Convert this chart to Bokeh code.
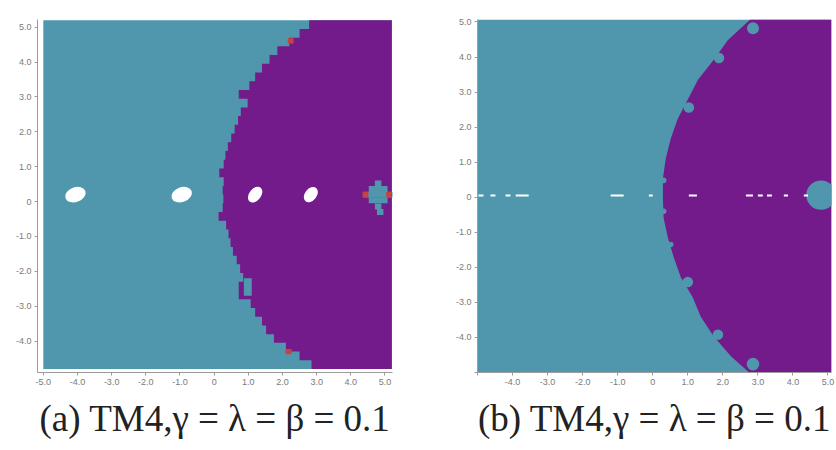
import numpy as np
from bokeh.plotting import figure
from bokeh.layouts import row
from bokeh.models import FixedTicker, Title, Range1d
from bokeh.embed import file_html
from bokeh.resources import INLINE

TEAL = "#5097AD"
PURPLE = "#741B8C"
RED = "#C4433D"
WHITE = "#FFFFFF"
AXIS_GREY = "#9c9c9c"
LABEL_GREY = "#7a7a7a"

# ---------------- panel (a): basins on a coarse grid ----------------
A_X0, A_X1 = -5.0, 5.2          # extent of the computed grid
A_Y0, A_Y1 = -4.8, 5.2
A_ROW_H = 0.25

# one grid row per entry, top to bottom: left edge of the purple basin
a_row_y = [5.075, 4.825, 4.575, 4.325, 4.075, 3.825, 3.575, 3.325, 3.075, 2.825,
           2.575, 2.325, 2.075, 1.825, 1.575, 1.325, 1.075, 0.825, 0.575, 0.325,
           0.075, -0.175, -0.425, -0.675, -0.925, -1.175, -1.425, -1.675, -1.925, -2.175,
           -2.425, -2.675, -2.925, -3.175, -3.425, -3.675, -3.925, -4.175, -4.425, -4.675]
a_edge_x = [2.78, 2.5, 2.2, 1.85, 1.62, 1.4, 1.2, 1.03, 0.72, 0.98,
            0.78, 0.7, 0.6, 0.5, 0.4, 0.33, 0.28, 0.15, 0.28, 0.25,
            0.27, 0.25, 0.13, 0.35, 0.42, 0.48, 0.55, 0.66, 0.76, 0.85,
            0.72, 0.72, 1.07, 1.2, 1.4, 1.52, 1.75, 2.1, 2.5, 2.85]

# teal pocket inside the purple basin
a_isle_left, a_isle_right = [0.87], [1.1]
a_isle_bottom, a_isle_top = [-2.7], [-2.2]

# teal star near the right edge (grid cells)
a_star_x = [4.8, 4.62, 4.8, 4.98, 4.45, 4.62, 4.8, 4.98, 5.16, 4.62, 4.8, 4.98, 4.8, 4.86]
a_star_y = [0.52, 0.36, 0.36, 0.36, 0.2, 0.2, 0.2, 0.2, 0.2, 0.04, 0.04, 0.04, -0.14, -0.3]

# red (third root) cells
a_red_x = [2.24, 2.18, 4.43, 5.12]
a_red_y = [4.61, -4.3, 0.2, 0.2]

# non-convergent blobs on the real axis
a_hole_x = [-4.06, -0.95, 1.2, 2.83]
a_hole_y = [0.2, 0.2, 0.2, 0.2]
a_hole_w = [0.62, 0.62, 0.52, 0.5]
a_hole_h = [0.42, 0.42, 0.34, 0.34]
a_hole_angle = [0.35, 0.35, 0.9, 0.9]

a_ticks = [-5, -4, -3, -2, -1, 0, 1, 2, 3, 4, 5]
a_tick_labels = ["-5.0", "-4.0", "-3.0", "-2.0", "-1.0", "0", "1.0", "2.0", "3.0", "4.0", "5.0"]

# ---------------- panel (b): basins on a fine grid ----------------
B_X0, B_X1 = -5.0, 5.1
B_Y0, B_Y1 = -5.0, 5.07

b_edge_y = [5.07, 4.48, 3.92, 3.35, 2.79, 2.23, 1.66, 1.1, 0.54, -0.03,
            -0.59, -1.15, -1.72, -2.28, -2.85, -3.41, -3.97, -4.54, -5.0]
b_edge_x = [2.78, 2.14, 1.74, 1.29, 1.0, 0.71, 0.51, 0.37, 0.29, 0.29,
            0.31, 0.43, 0.6, 0.8, 1.14, 1.37, 1.74, 2.23, 2.75]

# teal bulbs along the basin boundary
b_bulb_x = [2.86, 1.89, 1.03, 0.31, 0.31, 0.51, 1.0, 1.86, 2.86, 4.8]
b_bulb_y = [4.82, 3.97, 2.56, 0.48, -0.4, -1.35, -2.42, -3.92, -4.76, 0.06]
b_bulb_r = [0.17, 0.15, 0.15, 0.08, 0.08, 0.08, 0.15, 0.15, 0.18, 0.42]

# non-convergent dashes on the real axis
b_dash_x0 = [-4.97, -4.63, -4.2, -3.91, -1.2, -0.11, 1.03, 2.66, 3.0, 3.26, 3.74, 4.31]
b_dash_x1 = [-4.83, -4.49, -4.06, -3.54, -0.83, 0.0, 1.26, 2.86, 3.14, 3.4, 3.86, 4.43]
b_dash_y = 0.05

b_ticks = [-5, -4, -3, -2, -1, 0, 1, 2, 3, 4, 5]
b_tick_labels = ["", "-4.0", "-3.0", "-2.0", "-1.0", "0", "1.0", "2.0", "3.0", "4.0", "5.0"]
b_ytick_labels = ["", "-4.0", "-3.0", "-2.0", "-1.0", "0", "1.0", "2.0", "3.0", "4.0", "5.0"]

captions = ["(a) TM4,γ = λ = β = 0.1", "(b) TM4,γ = λ = β = 0.1"]


def style_axes(p, ticks, xlabels, ylabels):
    for ax, labels in ((p.xaxis[0], xlabels), (p.yaxis[0], ylabels)):
        ax.ticker = FixedTicker(ticks=ticks)
        ax.major_label_overrides = {t: s for t, s in zip(ticks, labels)}
        ax.axis_line_color = AXIS_GREY
        ax.major_tick_line_color = AXIS_GREY
        ax.major_tick_out = 3
        ax.major_tick_in = 0
        ax.minor_tick_line_color = None
        ax.major_label_text_font = "Liberation Sans"
        ax.major_label_text_font_size = "9px"
        ax.major_label_text_color = LABEL_GREY
        ax.major_label_standoff = 3
    p.xgrid.visible = False
    p.ygrid.visible = False
    p.outline_line_color = None


def add_caption(p, text):
    p.add_layout(Title(text=text, align="center", text_font="Liberation Serif",
                       text_font_size="37px", text_font_style="normal",
                       text_color="#222222", standoff=17), "below")


# ---- figure (a)
pa = figure(width=440, height=450, x_range=Range1d(-5.17, 5.22), y_range=Range1d(-4.9, 5.22),
            output_backend="svg", toolbar_location=None,
            min_border_left=37, min_border_right=48, min_border_top=19, min_border_bottom=78)
style_axes(pa, a_ticks, a_tick_labels, a_tick_labels)

pa.quad(left=[A_X0], right=[A_X1], bottom=[A_Y0], top=[A_Y1], fill_color=TEAL, line_color=None)

ry = np.array(a_row_y)
ex = np.array(a_edge_x)
stair_x = np.repeat(ex, 2)
stair_y = np.column_stack([ry + A_ROW_H / 2, ry - A_ROW_H / 2]).ravel()
pa.patch(x=np.concatenate([stair_x, [A_X1, A_X1]]),
         y=np.concatenate([stair_y, [A_Y0, A_Y1]]),
         fill_color=PURPLE, line_color=None)

pa.quad(left=a_isle_left, right=a_isle_right, bottom=a_isle_bottom, top=a_isle_top,
        fill_color=TEAL, line_color=None)
pa.rect(x=a_star_x, y=a_star_y, width=0.19, height=0.17, fill_color=TEAL, line_color=None)
pa.rect(x=a_red_x, y=a_red_y, width=0.17, height=0.15, fill_color=RED, line_color=None)
pa.ellipse(x=a_hole_x, y=a_hole_y, width=a_hole_w, height=a_hole_h, angle=a_hole_angle,
           fill_color=WHITE, line_color=None)
add_caption(pa, captions[0])

# ---- figure (b)
pb = figure(width=396, height=450, x_range=Range1d(B_X0, B_X1), y_range=Range1d(B_Y0, B_Y1),
            output_backend="svg", toolbar_location=None,
            min_border_left=37, min_border_right=5, min_border_top=19, min_border_bottom=73)
style_axes(pb, b_ticks, b_tick_labels, b_ytick_labels)

pb.quad(left=[B_X0], right=[B_X1], bottom=[B_Y0], top=[B_Y1], fill_color=TEAL, line_color=None)
pb.patch(x=b_edge_x + [B_X1, B_X1], y=b_edge_y + [B_Y0, B_Y1],
         fill_color=PURPLE, line_color=None)
pb.circle(x=b_bulb_x, y=b_bulb_y, radius=b_bulb_r, fill_color=TEAL, line_color=None)
pb.quad(left=b_dash_x0, right=b_dash_x1, bottom=b_dash_y - 0.03, top=b_dash_y + 0.03,
        fill_color=WHITE, line_color=None)
add_caption(pb, captions[1])

layout = row(pa, pb)
open("out.html", "w").write(file_html(layout, INLINE))
